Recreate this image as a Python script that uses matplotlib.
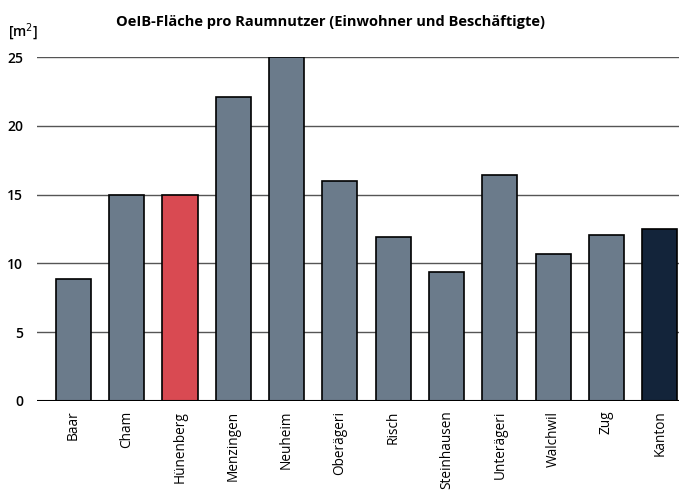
import matplotlib.pyplot as plt

plt.rcParams['font.family'] = ['Open Sans', 'DejaVu Sans']

# Gemeinden und OeIB-Fläche pro Raumnutzer [m2]
gemeinden = ['Baar', 'Cham', 'Hünenberg', 'Menzingen', 'Neuheim', 'Oberägeri',
             'Risch', 'Steinhausen', 'Unterägeri', 'Walchwil', 'Zug', 'Kanton']
flaeche = [8.9, 15.0, 15.0, 22.1, 25.0, 16.0, 11.9, 9.4, 16.4, 10.7, 12.1, 12.5]

grau = '#6b7b8b'
farben = [grau] * len(gemeinden)
farben[2] = '#d94a52'   # Hünenberg
farben[-1] = '#13243a'  # Kanton

fig = plt.figure(figsize=(6.79, 4.92), dpi=100)
ax = fig.add_axes([0.0545, 0.185, 0.9455, 0.699])

x = range(len(gemeinden))
ax.bar(x, flaeche, width=0.66, color=farben, edgecolor='black', linewidth=1.2, zorder=3)

ax.set_ylim(0, 25)
ax.set_xlim(-0.68, 11.36)
ax.set_yticks([0, 5, 10, 15, 20, 25])
ax.yaxis.grid(True, color='#555555', linewidth=1.0, zorder=0)
ax.axhline(0, color='black', linewidth=1.5, zorder=4)

for s in ax.spines.values():
    s.set_visible(False)
ax.tick_params(axis='both', length=0)
ax.tick_params(axis='y', pad=10, labelsize=10)
ax.tick_params(axis='x', pad=7, labelsize=9.8)
ax.set_xticks(list(x))
ax.set_xticklabels(gemeinden, rotation=90)
for t in ax.get_yticklabels():
    t.set_fontweight('semibold')

fig.text(0.487, 0.955, 'OeIB-Fläche pro Raumnutzer (Einwohner und Beschäftigte)',
         ha='center', va='center', fontsize=10.5, fontweight='bold')
fig.text(0.012, 0.935, '[m$^2$]', ha='left', va='center', fontsize=10, fontweight='semibold')

fig.savefig('out.png', dpi=100)
